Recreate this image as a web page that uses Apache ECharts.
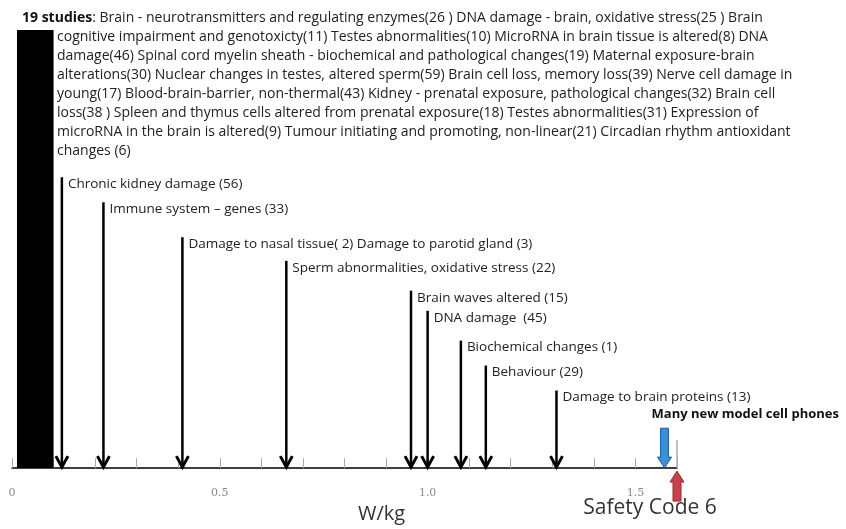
<!DOCTYPE html>
<html>
<head>
<meta charset="utf-8">
<script src="https://cdn.jsdelivr.net/npm/echarts@6/dist/echarts.min.js"></script>
<style>
html, body { margin: 0; padding: 0; background: #fff; }
#main { width: 846px; height: 529px; }
</style>
</head>
<body>
<div id="main"></div>
<script>
// studies listed at the top of the picture (all near 0 W/kg)
var studyHead = '19 studies';
var studyFirst = ': Brain - neurotransmitters and regulating enzymes(26 ) DNA damage - brain, oxidative stress(25 ) Brain';
var studyLines = [
    'cognitive impairment and genotoxicty(11) Testes abnormalities(10) MicroRNA in brain tissue is altered(8) DNA',
    'damage(46) Spinal cord myelin sheath - biochemical and pathological changes(19) Maternal exposure-brain',
    'alterations(30) Nuclear changes in testes, altered sperm(59) Brain cell loss, memory loss(39) Nerve cell damage in',
    'young(17) Blood-brain-barrier, non-thermal(43) Kidney - prenatal exposure, pathological changes(32) Brain cell',
    'loss(38 ) Spleen and thymus cells altered from prenatal exposure(18) Testes abnormalities(31) Expression of',
    'microRNA in the brain is altered(9) Tumour initiating and promoting, non-linear(21) Circadian rhythm antioxidant',
    'changes (6)'
];

// the cluster of studies at low SAR
var clusterSar = [0.012, 0.1];
var clusterLevel = 100;

// single effects: name, SAR (W/kg), height of the arrow
var effectNames = [
    'Chronic kidney damage (56)',
    'Immune system \u2013 genes (33)',
    'Damage to nasal tissue( 2) Damage to parotid gland (3)',
    'Sperm abnormalities, oxidative stress (22)',
    'Brain waves altered (15)',
    'DNA damage  (45)',
    'Biochemical changes (1)',
    'Behaviour (29)',
    'Damage to brain proteins (13)'
];
var effectSar = [0.12, 0.22, 0.41, 0.66, 0.96, 1.0, 1.08, 1.14, 1.31];
var effectLevel = [66.4, 60.7, 52.7, 47.3, 40.5, 35.9, 29.1, 23.4, 17.7];

var phoneName = 'Many new model cell phones';
var phoneSar = 1.57;
var phoneLevel = 9.1;

var safetyName = 'Safety Code 6';
var safetyLimit = 1.6;

var tickLabels = ['0', '0.5', '1.0', '1.5'];

var FONT = '"Open Sans", "Liberation Sans", sans-serif';

function renderCluster(params, api) {
    var a = api.coord([api.value(0), api.value(2)]);
    var b = api.coord([api.value(1), 0]);
    return {
        type: 'rect',
        shape: { x: a[0], y: a[1], width: b[0] - a[0], height: b[1] - a[1] },
        style: { fill: '#000' }
    };
}

function renderEffect(params, api) {
    var top = api.coord([api.value(0), api.value(1)]);
    var base = api.coord([api.value(0), 0]);
    return {
        type: 'group',
        children: [
            {
                type: 'line',
                shape: { x1: top[0], y1: top[1], x2: base[0], y2: base[1] - 1 },
                style: { stroke: '#000', lineWidth: 2.5 }
            },
            {
                type: 'polyline',
                shape: { points: [[base[0] - 6, base[1] - 12], [base[0], base[1] - 1], [base[0] + 6, base[1] - 12]] },
                style: { stroke: '#000', lineWidth: 3, fill: null }
            },
            {
                type: 'text',
                x: top[0] + 6,
                y: top[1] + 7,
                style: {
                    text: effectNames[params.dataIndex],
                    font: '13.5px ' + FONT,
                    fill: '#222',
                    align: 'left',
                    verticalAlign: 'middle'
                }
            }
        ]
    };
}

// block arrow pointing down (dir 1) or up (dir -1), tip at (x, y)
function blockArrow(x, y, len, dir, fill, stroke) {
    var hw = 7, sw = 4, hl = 11;
    var pts = [
        [x, y],
        [x - hw, y - dir * hl],
        [x - sw, y - dir * hl],
        [x - sw, y - dir * len],
        [x + sw, y - dir * len],
        [x + sw, y - dir * hl],
        [x + hw, y - dir * hl]
    ];
    return {
        type: 'polygon',
        shape: { points: pts },
        style: { fill: fill, stroke: stroke, lineWidth: 1 }
    };
}

function renderPhone(params, api) {
    var top = api.coord([api.value(0), api.value(1)]);
    var base = api.coord([api.value(0), 0]);
    return {
        type: 'group',
        children: [
            blockArrow(base[0], base[1], base[1] - top[1], 1, '#3c8fd4', '#1d5d9c'),
            {
                type: 'text',
                x: top[0] - 13,
                y: top[1] - 14,
                style: {
                    text: phoneName,
                    font: 'bold 13px ' + FONT,
                    fill: '#111',
                    align: 'left',
                    verticalAlign: 'middle'
                }
            }
        ]
    };
}

function renderSafety(params, api) {
    var base = api.coord([api.value(0), 0]);
    return {
        type: 'group',
        children: [
            {
                type: 'line',
                shape: { x1: base[0], y1: base[1], x2: base[0], y2: base[1] - 28 },
                style: { stroke: '#aaa', lineWidth: 1.5 }
            },
            blockArrow(base[0], base[1] + 3, 30, -1, '#c6424e', '#9b2a33'),
            {
                type: 'text',
                x: base[0] - 27,
                y: base[1] + 40,
                style: {
                    text: safetyName,
                    font: '21px ' + FONT,
                    fill: '#333',
                    align: 'center',
                    verticalAlign: 'middle'
                }
            }
        ]
    };
}

var chart = echarts.init(document.getElementById('main'), null, { renderer: 'canvas' });

var option = {
    animation: false,
    backgroundColor: '#fff',
    title: [
        {
            left: 22,
            top: 11,
            padding: 0,
            text: '{b|' + studyHead + '}{n|' + studyFirst + '}',
            textStyle: {
                rich: {
                    b: { fontFamily: FONT, fontSize: 14, fontWeight: 'bold', color: '#111' },
                    n: { fontFamily: FONT, fontSize: 14, fontWeight: 'normal', color: '#222' }
                }
            }
        },
        {
            left: 57,
            top: 28,
            padding: 0,
            text: studyLines.join('\n'),
            textStyle: {
                fontFamily: FONT,
                fontSize: 14,
                fontWeight: 'normal',
                color: '#222',
                lineHeight: 19
            }
        }
    ],
    grid: { left: 12, right: 169, top: 30, bottom: 59 },
    xAxis: {
        type: 'value',
        min: 0,
        max: 1.6,
        interval: 0.1,
        name: 'W/kg',
        nameLocation: 'middle',
        nameGap: 28,
        nameTextStyle: { fontFamily: FONT, fontSize: 20, color: '#333', padding: [0, 0, 0, 74] },
        axisLine: { lineStyle: { color: '#000', width: 1.5 } },
        axisTick: { inside: true, length: 10, lineStyle: { color: '#aaa' } },
        axisLabel: {
            margin: 20,
            fontFamily: 'DejaVu Serif',
            fontSize: 11,
            color: '#888',
            formatter: function (v) {
                var i = Math.round(v * 10);
                if (i % 5) return '';
                return tickLabels[i / 5] || '';
            }
        },
        splitLine: { show: false }
    },
    yAxis: {
        type: 'value',
        min: 0,
        max: 100,
        show: false
    },
    series: [
        {
            type: 'custom',
            renderItem: renderCluster,
            data: [[clusterSar[0], clusterSar[1], clusterLevel]],
            z: 3
        },
        {
            type: 'custom',
            renderItem: renderEffect,
            data: effectSar.map(function (x, i) { return [x, effectLevel[i]]; }),
            z: 3
        },
        {
            type: 'custom',
            renderItem: renderPhone,
            data: [[phoneSar, phoneLevel]],
            z: 3
        },
        {
            type: 'custom',
            renderItem: renderSafety,
            data: [[safetyLimit, 0]],
            z: 3
        }
    ]
};

chart.setOption(option);
</script>
</body>
</html>
